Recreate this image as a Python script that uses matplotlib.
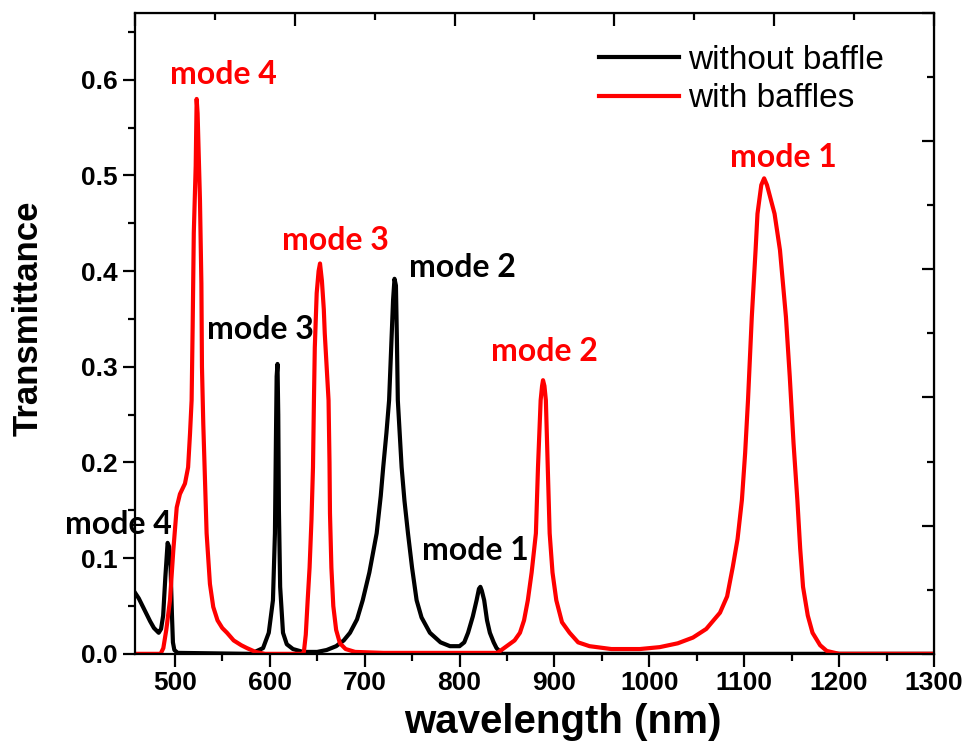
import matplotlib
matplotlib.use('Agg')
import matplotlib.pyplot as plt
from matplotlib.ticker import MultipleLocator, NullFormatter

plt.rcParams['font.family'] = ['Liberation Sans', 'DejaVu Sans']

# without baffle (black)
wl_no = [458, 462, 466, 470, 474, 478, 481, 483, 485.5, 487.7, 490, 492.4, 494, 495.5, 497, 498, 499.5, 503,
         580, 593, 599, 603.4, 605.5, 606.5, 607.3, 608.2, 609, 609.7, 611, 614, 618, 624.5, 635,
         650, 660, 670, 678, 684.6, 692, 698, 705, 712.7, 717, 719.6, 723, 725.8, 728, 730, 731.5, 733, 734,
         735, 739, 742, 745.7, 750, 754.8, 760, 768.8, 780, 790, 800, 805, 809, 814, 818, 820.5, 822, 823.5,
         826, 829, 832, 836, 839, 845, 1300]
t_no = [0.064, 0.058, 0.050, 0.042, 0.034, 0.027, 0.024, 0.022, 0.026, 0.040, 0.080, 0.116, 0.112, 0.091, 0.040,
        0.012, 0.004, 0.001,
        0.0, 0.006, 0.022, 0.056, 0.126, 0.22, 0.29, 0.303, 0.25, 0.15, 0.07, 0.022, 0.010, 0.005, 0.002,
        0.002, 0.004, 0.008, 0.014, 0.022, 0.036, 0.056, 0.085, 0.126, 0.165, 0.195, 0.231, 0.265, 0.32, 0.37,
        0.392, 0.385, 0.33,
        0.265, 0.195, 0.16, 0.126, 0.09, 0.056, 0.038, 0.022, 0.012, 0.008, 0.008, 0.012, 0.022, 0.039, 0.056,
        0.068, 0.070, 0.066,
        0.056, 0.035, 0.022, 0.012, 0.006, 0.0, 0.0]

# with baffles (red)
wl_baf = [458, 485, 487.9, 491, 494.9, 498.4, 502, 505.4, 510.7, 514, 516, 517.7, 518.8, 520, 522, 523, 524,
          526.5, 528, 528.6, 530, 533.5, 537, 540.5, 545, 550, 555, 562, 570, 576, 585, 595,
          634, 636, 638, 640, 642, 644, 645.6, 646.6, 647.5, 649.5, 651.5, 653, 655, 657, 658, 660, 662, 663,
          663.5, 665, 667, 670, 674, 680, 690, 720,
          840, 849.7, 858, 863.7, 868, 872, 876, 880.5, 882.7, 885.5, 887, 888, 889.5, 891, 893, 895, 898, 902,
          908, 916, 925, 937, 960, 990, 1011, 1030, 1046, 1060, 1074.5, 1082, 1088, 1093, 1097.6, 1101, 1104,
          1108, 1112, 1114, 1118, 1121, 1124, 1128, 1132, 1137.7, 1144, 1148, 1152, 1156, 1159, 1162, 1167,
          1172, 1180, 1187, 1200, 1300]
t_baf = [0.0, 0.0, 0.006, 0.025, 0.056, 0.108, 0.153, 0.167, 0.178, 0.195, 0.23, 0.265, 0.342, 0.44, 0.51, 0.58,
         0.565, 0.474, 0.387, 0.30, 0.24, 0.126, 0.073, 0.049, 0.035, 0.027, 0.022, 0.014, 0.009, 0.006, 0.002,
         0.0,
         0.0, 0.002, 0.02, 0.056, 0.09, 0.14, 0.195, 0.265, 0.32, 0.377, 0.40, 0.408, 0.39, 0.36, 0.335, 0.30,
         0.265, 0.2, 0.147, 0.09, 0.05, 0.025, 0.011, 0.005, 0.002, 0.001,
         0.001, 0.008, 0.014, 0.022, 0.035, 0.056, 0.085, 0.126, 0.195, 0.265, 0.28, 0.286, 0.28, 0.265, 0.195,
         0.126, 0.085, 0.056, 0.033, 0.022, 0.012, 0.008, 0.005, 0.005, 0.007, 0.011, 0.017, 0.026, 0.043,
         0.06, 0.091, 0.12, 0.161, 0.21, 0.265,
         0.352, 0.422, 0.46, 0.49, 0.497, 0.49, 0.475, 0.46, 0.422, 0.352, 0.29, 0.22, 0.161, 0.11, 0.07, 0.04,
         0.022, 0.009, 0.003, 0.0, 0.0]

# peak labels: text, x, y, colour
labels = [
    ('mode 4', 551, 0.606, 'red'),
    ('mode 3', 669, 0.432, 'red'),
    ('mode 2', 890, 0.316, 'red'),
    ('mode 1', 1141, 0.519, 'red'),
    ('mode 4', 441, 0.135, 'black'),
    ('mode 3', 590, 0.339, 'black'),
    ('mode 2', 803, 0.404, 'black'),
    ('mode 1', 817, 0.108, 'black'),
]

fig = plt.figure(figsize=(9.78, 7.55), dpi=100)
ax = fig.add_axes([0.138, 0.134, 0.817, 0.849])

ax.plot(wl_no, t_no, color='black', lw=3, label='without baffle')
ax.plot(wl_baf, t_baf, color='red', lw=3, label='with baffles')

for txt, x, y, c in labels:
    ax.text(x, y, txt, color=c, fontsize=23, fontweight='bold', family='Lato',
            ha='center', va='center', clip_on=False)

xmin, xmax = 458, 1300
ymin, ymax = 0, 0.67
ax.set_xlim(xmin, xmax)
ax.set_ylim(ymin, ymax)
ax.xaxis.set_major_locator(MultipleLocator(100))
ax.xaxis.set_minor_locator(MultipleLocator(50))
ax.yaxis.set_major_locator(MultipleLocator(0.1))
ax.yaxis.set_minor_locator(MultipleLocator(0.05))
ax.yaxis.set_major_formatter(plt.FormatStrFormatter('%.1f'))
ax.tick_params(which='major', direction='out', length=9, width=1.6, labelsize=19)
ax.tick_params(which='minor', direction='out', length=5, width=1.6)
for lab in ax.get_xticklabels() + ax.get_yticklabels():
    lab.set_fontweight('bold')
for sp in ax.spines.values():
    sp.set_linewidth(1.6)

ax.set_xlabel('wavelength (nm)', fontsize=29, fontweight='bold')
ax.set_ylabel('Transmittance', fontsize=25, fontweight='bold')
ax.xaxis.set_label_coords(0.536, -0.107, transform=ax.transAxes)
ax.yaxis.set_label_coords(-0.134, 0.524, transform=ax.transAxes)
ax.xaxis.label.set_va('center')
ax.yaxis.label.set_va('center')

# frame ticks on top / right (5 divisions each, no labels)
top = ax.secondary_xaxis('top', functions=(lambda x: (x - xmin) / (xmax - xmin) * 5,
                                           lambda u: u / 5 * (xmax - xmin) + xmin))
top.xaxis.set_major_locator(MultipleLocator(1))
top.xaxis.set_minor_locator(MultipleLocator(0.5))
top.xaxis.set_major_formatter(NullFormatter())
top.tick_params(which='major', direction='in', length=9, width=1.6)
top.tick_params(which='minor', direction='in', length=5, width=1.6)

right = ax.secondary_yaxis('right', functions=(lambda y: (y - ymin) / (ymax - ymin) * 5,
                                               lambda u: u / 5 * (ymax - ymin) + ymin))
right.yaxis.set_major_locator(MultipleLocator(1))
right.yaxis.set_minor_locator(MultipleLocator(0.5))
right.yaxis.set_major_formatter(NullFormatter())
right.tick_params(which='major', direction='in', length=9, width=1.6)
right.tick_params(which='minor', direction='in', length=5, width=1.6)

ax.legend(loc='upper right', frameon=False, fontsize=24, handlelength=2.4,
          borderpad=0, borderaxespad=0, bbox_to_anchor=(0.937, 0.95),
          labelspacing=0.22, handletextpad=0.25)

fig.savefig('out.png', dpi=100)
